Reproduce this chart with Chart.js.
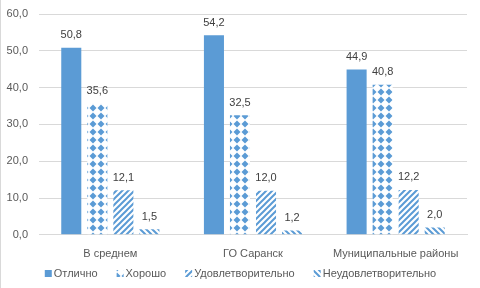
<!DOCTYPE html>
<html lang="ru">
<head>
<meta charset="utf-8">
<script src="https://cdn.jsdelivr.net/npm/chart.js@4"></script>
<style>
    html, body { margin: 0; padding: 0; background: #fff; }
    #wrap { width: 480px; height: 288px; position: relative; box-sizing: border-box; border-left: 1px solid #d9d9d9; }
</style>
</head>
<body>
<div id="wrap"><canvas id="grafico"></canvas></div>
<script>
// Dados do gráfico
const categorias = ['В среднем', 'ГО Саранск', 'Муниципальные районы'];
const series = ['Отлично', 'Хорошо', 'Удовлетворительно', 'Неудовлетворительно'];
const otlichno = [50.8, 54.2, 44.9];
const khorosho = [35.6, 32.5, 40.8];
const udovl = [12.1, 12.0, 12.2];
const neudovl = [1.5, 1.2, 2.0];
const ticksY = [0, 10, 20, 30, 40, 50, 60];

const azul = '#5b9bd5';
const fonte = '"Liberation Sans", Arial, sans-serif';

// Padrões de preenchimento (losangos e listras)
function padraoLosango() {
    const c = document.createElement('canvas');
    c.width = 8; c.height = 8;
    const g = c.getContext('2d');
    g.fillStyle = '#fff';
    g.fillRect(0, 0, 8, 8);
    g.fillStyle = azul;
    g.beginPath();
    g.moveTo(4, 0.5); g.lineTo(7.5, 4); g.lineTo(4, 7.5); g.lineTo(0.5, 4);
    g.closePath();
    g.fill();
    return g.createPattern(c, 'repeat');
}

function padraoListra(invertida) {
    const c = document.createElement('canvas');
    c.width = 6; c.height = 6;
    const g = c.getContext('2d');
    g.fillStyle = '#fff';
    g.fillRect(0, 0, 6, 6);
    g.strokeStyle = azul;
    g.lineWidth = 2;
    g.beginPath();
    if (!invertida) {
        g.moveTo(-1, 7); g.lineTo(7, -1);
        g.moveTo(-4, 4); g.lineTo(4, -4);
        g.moveTo(2, 10); g.lineTo(10, 2);
    } else {
        g.moveTo(-1, -1); g.lineTo(7, 7);
        g.moveTo(-4, 2); g.lineTo(4, 10);
        g.moveTo(2, -4); g.lineTo(10, 4);
    }
    g.stroke();
    return g.createPattern(c, 'repeat');
}

// Rótulos de valor em cima das barras
const rotulosPlugin = {
    id: 'rotulos',
    afterDatasetsDraw(chart) {
        const ctx = chart.ctx;
        ctx.save();
        ctx.font = '11px ' + fonte;
        ctx.fillStyle = '#404040';
        ctx.textAlign = 'center';
        ctx.textBaseline = 'bottom';
        chart.data.datasets.forEach((ds, i) => {
            chart.getDatasetMeta(i).data.forEach((bar, j) => {
                ctx.fillText(ds.data[j].toFixed(1).replace('.', ','), bar.x, bar.y - 7);
            });
        });
        ctx.restore();
    }
};

// Legenda desenhada à mão (espaçamento igual ao original)
const legendaPlugin = {
    id: 'legenda',
    afterDraw(chart) {
        const ctx = chart.ctx;
        const y = 273.5;
        ctx.save();
        ctx.font = '11px ' + fonte;
        ctx.textBaseline = 'middle';
        const larguras = chart.data.datasets.map(ds => ctx.measureText(ds.label).width);
        const total = larguras.reduce((a, b) => a + b, 0) + larguras.length * 9 + (larguras.length - 1) * 19;
        let x = (chart.width - total) / 2;
        chart.data.datasets.forEach((ds, i) => {
            ctx.fillStyle = ds.backgroundColor;
            ctx.fillRect(x, y - 3.5, 7, 7);
            ctx.fillStyle = '#595959';
            ctx.fillText(ds.label, x + 9, y);
            x += 9 + larguras[i] + 19;
        });
        ctx.restore();
    }
};

const valores = [otlichno, khorosho, udovl, neudovl];
const preenchimentos = [azul, padraoLosango(), padraoListra(false), padraoListra(true)];

const datasets = series.map((nome, i) => ({
    label: nome,
    data: valores[i],
    backgroundColor: preenchimentos[i],
    borderWidth: 0,
    categoryPercentage: 0.73,
    barPercentage: 0.77
}));

new Chart(document.getElementById('grafico'), {
    type: 'bar',
    data: { labels: categorias, datasets: datasets },
    plugins: [rotulosPlugin, legendaPlugin],
    options: {
        responsive: true,
        maintainAspectRatio: false,
        animation: false,
        layout: { padding: { left: 0, right: 13, top: 14, bottom: 22 } },
        plugins: {
            tooltip: { enabled: false },
            legend: { display: false }
        },
        scales: {
            x: {
                grid: { display: false },
                border: { color: '#d9d9d9' },
                ticks: { color: '#595959', font: { family: fonte, size: 11 }, padding: 5 }
            },
            y: {
                min: 0,
                max: 60,
                afterBuildTicks(axis) {
                    axis.ticks = ticksY.map(v => ({ value: v }));
                },
                afterFit(axis) {
                    axis.width = 38;
                    axis.paddingTop = 0;
                    axis.paddingBottom = 0;
                },
                grid: { color: '#d9d9d9', drawTicks: false },
                border: { display: false },
                ticks: {
                    color: '#595959',
                    font: { family: fonte, size: 11 },
                    padding: 11,
                    callback: v => v.toFixed(1).replace('.', ',')
                }
            }
        }
    }
});
</script>
</body>
</html>
